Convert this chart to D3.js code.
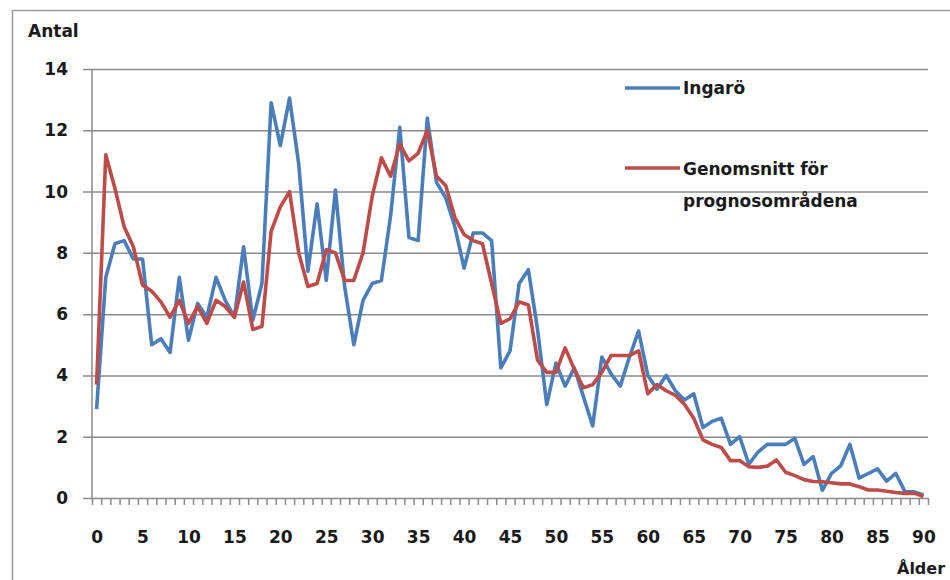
<!DOCTYPE html>
<html lang="sv">
<head>
    <meta charset="utf-8">
    <script src="https://d3js.org/d3.v7.min.js"></script>
    <title>Antal per ålder</title>
    <style>
        body { margin: 0; background: #fff; }
        text { font-family: "DejaVu Sans", sans-serif; font-weight: bold; fill: #1a1a1a; }
    </style>
</head>
<body>
    <div id="container"></div>
    <script>
        // ålder 0..90
        const ages = d3.range(0, 91);
        const xLabels = d3.range(0, 91, 5);
        const yTicks = [0, 2, 4, 6, 8, 10, 12, 14];
        const seriesNames = ["Ingarö", "Genomsnitt för prognosområdena"];

        const ingaro = [
            2.9, 7.2, 8.3, 8.4, 7.8, 7.8, 5.0, 5.2, 4.75, 7.2,
            5.15, 6.35, 5.9, 7.2, 6.45, 5.9, 8.2, 5.8, 7.0, 12.9,
            11.5, 13.05, 10.9, 7.4, 9.6, 7.1, 10.05, 6.9, 5.0, 6.45,
            7.0, 7.1, 9.2, 12.1, 8.5, 8.4, 12.4, 10.3, 9.8, 8.85,
            7.5, 8.65, 8.65, 8.4, 4.25, 4.8, 7.0, 7.45, 5.5, 3.05,
            4.4, 3.65, 4.25, 3.3, 2.35, 4.6, 4.05, 3.65, 4.6, 5.45,
            4.0, 3.55, 4.0, 3.5, 3.2, 3.4, 2.3, 2.5, 2.6, 1.75,
            2.0, 1.1, 1.5, 1.75, 1.75, 1.75, 1.95, 1.1, 1.35, 0.25,
            0.8, 1.05, 1.75, 0.65, 0.8, 0.95, 0.55, 0.8, 0.2, 0.2,
            0.1
        ];
        const genomsnitt = [
            3.7, 11.2, 10.1, 8.85, 8.2, 6.95, 6.75, 6.4, 5.9, 6.45,
            5.7, 6.25, 5.7, 6.45, 6.25, 5.9, 7.05, 5.5, 5.6, 8.7,
            9.5, 10.0, 8.0, 6.9, 7.0, 8.1, 8.0, 7.1, 7.1, 8.0,
            9.85, 11.1, 10.5, 11.55, 11.0, 11.25, 12.0, 10.5, 10.2, 9.15,
            8.6, 8.4, 8.3, 7.0, 5.7, 5.85, 6.4, 6.3, 4.5, 4.1,
            4.1, 4.9, 4.2, 3.6, 3.7, 4.1, 4.65, 4.65, 4.65, 4.8,
            3.4, 3.7, 3.5, 3.35, 3.05, 2.6, 1.9, 1.75, 1.65, 1.22,
            1.22, 1.02, 1.0, 1.04, 1.24, 0.84, 0.73, 0.6, 0.54, 0.53,
            0.5, 0.46, 0.46, 0.37, 0.26, 0.26, 0.22, 0.18, 0.15, 0.16,
            0.05
        ];
        const colors = ["#4a7ebb", "#be4b48"];

        const w = 950;
        const h = 580;
        const plotLeft = 92, plotRight = 928, plotTop = 69, plotBottom = 498;
        const gridColor = "#8a8a8a";

        const svg = d3.select("#container").append("svg")
            .attr("width", w).attr("height", h);

        // ram runt diagrammet
        svg.append("rect")
            .attr("x", 12.5).attr("y", 10.5)
            .attr("width", 1000).attr("height", 1000)
            .attr("fill", "none").attr("stroke", "#9a9a9a").attr("stroke-width", 1.5);

        const xScale = d3.scaleLinear().domain([-0.5, 90.5]).range([plotLeft, plotRight]);
        const yScale = d3.scaleLinear().domain([0, 14]).range([plotBottom, plotTop]);

        // y: stödlinjer + etiketter
        const yAxis = d3.axisLeft(yScale).tickValues(yTicks)
            .tickSize(-(plotRight - plotLeft + 9)).tickPadding(15);
        const gy = svg.append("g").attr("transform", "translate(" + (plotLeft - 9) + ",0)").call(yAxis);
        gy.select(".domain").remove();
        gy.selectAll("line").attr("stroke", gridColor).attr("stroke-width", 1.5);
        gy.selectAll("text").style("font-size", "17px").attr("fill", "#1a1a1a");

        svg.append("line")
            .attr("x1", plotLeft).attr("x2", plotLeft)
            .attr("y1", yScale(14)).attr("y2", yScale(0))
            .attr("stroke", gridColor).attr("stroke-width", 1.5);

        // x: små streck mellan kategorierna
        const minor = d3.axisBottom(xScale).tickValues(d3.range(-0.5, 91, 1))
            .tickSize(7).tickFormat("");
        const gm = svg.append("g").attr("transform", "translate(0," + plotBottom + ")").call(minor);
        gm.select(".domain").remove();
        gm.selectAll("line").attr("stroke", gridColor).attr("stroke-width", 1.5);

        const xAxis = d3.axisBottom(xScale).tickValues(xLabels).tickSize(0).tickPadding(33);
        const gx = svg.append("g").attr("transform", "translate(0," + plotBottom + ")").call(xAxis);
        gx.select(".domain").remove();
        gx.selectAll("text").style("font-size", "17px").attr("fill", "#1a1a1a");

        svg.append("text").attr("x", 28).attr("y", 37).style("font-size", "17px").text("Antal");
        svg.append("text").attr("x", 897).attr("y", 574).style("font-size", "16px").text("Ålder");

        // linjer
        const line = d3.line()
            .x((d, i) => xScale(ages[i]))
            .y(d => yScale(d));

        [ingaro, genomsnitt].forEach((s, i) => {
            svg.append("path")
               .datum(s)
               .attr("d", line)
               .attr("fill", "none")
               .attr("stroke", colors[i])
               .attr("stroke-width", 3.6)
               .attr("stroke-linejoin", "round");
        });

        // legend
        const legend = svg.append("g").attr("id", "legend");
        legend.append("line").attr("x1", 625).attr("x2", 680).attr("y1", 88).attr("y2", 88)
            .attr("stroke", colors[0]).attr("stroke-width", 3.6);
        legend.append("text").attr("x", 683).attr("y", 94).style("font-size", "17px").text(seriesNames[0]);
        legend.append("line").attr("x1", 625).attr("x2", 680).attr("y1", 168).attr("y2", 168)
            .attr("stroke", colors[1]).attr("stroke-width", 3.6);
        legend.append("text").attr("x", 683).attr("y", 175).style("font-size", "17px").text("Genomsnitt för");
        legend.append("text").attr("x", 683).attr("y", 207).style("font-size", "17px").text("prognosområdena");
    </script>
</body>
</html>
